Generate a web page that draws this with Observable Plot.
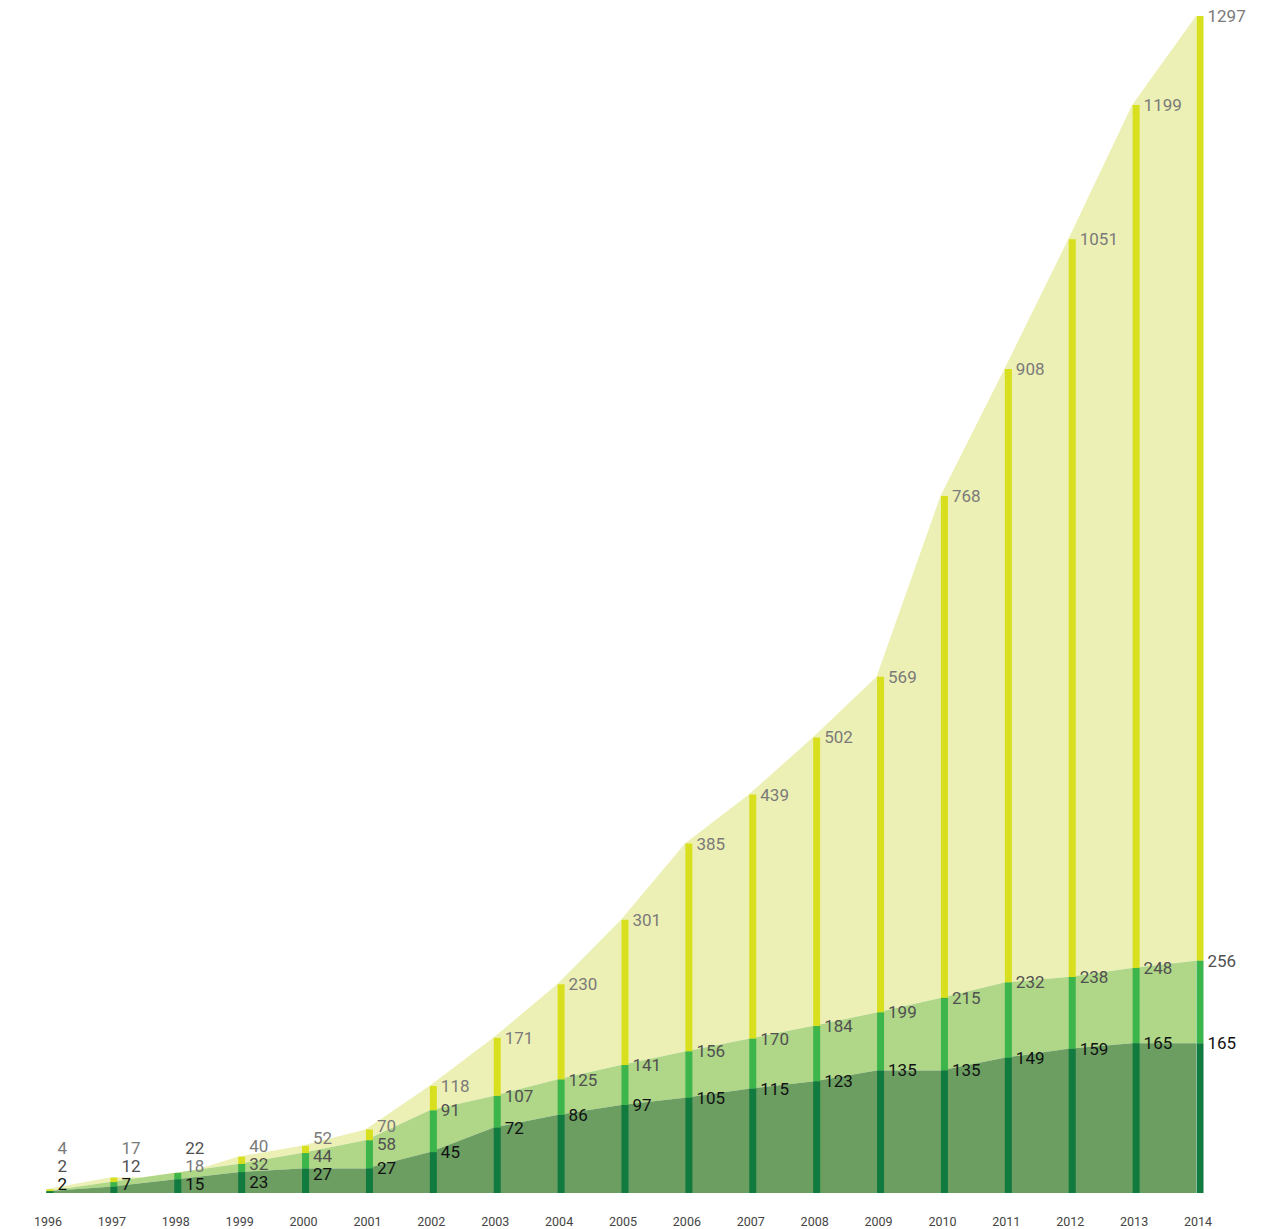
<!DOCTYPE html>
<html>
<head>
<meta charset="utf-8">
<script src="https://cdn.jsdelivr.net/npm/d3@7"></script>
<script src="https://cdn.jsdelivr.net/npm/@observablehq/plot@0.6"></script>
<style>
  html, body { margin: 0; padding: 0; background: #fff; }
  svg { display: block; }
</style>
</head>
<body>
<div id="chart"></div>
<script>
const years  = [1996,1997,1998,1999,2000,2001,2002,2003,2004,2005,2006,2007,2008,2009,2010,2011,2012,2013,2014];
const bottom = [2,7,15,23,27,27,45,72,86,97,105,115,123,135,135,149,159,165,165];
const middle = [2,12,22,32,44,58,91,107,125,141,156,170,184,199,215,232,238,248,256];
const top_   = [4,17,18,40,52,70,118,171,230,301,385,439,502,569,768,908,1051,1199,1297];

const W = 1273, H = 1229;
const M = {top: 16, right: 77, bottom: 36, left: 46};
const yDomain = [0, 1297];

const rows = years.map((year, i) => ({year, b: bottom[i], m: middle[i], t: top_[i]}));

// label de-overlap using the library's own y scale
const yScale = Plot.scale({y: {domain: yDomain, range: [H - M.bottom, M.top]}});
const labels = [];
const GAP = 18, MAXY = (H - M.bottom) - 9;
rows.forEach(r => {
  const items = [
    {year: r.year, v: r.b, cls: "b"},
    {year: r.year, v: r.m, cls: "m"},
    {year: r.year, v: r.t, cls: "t"}
  ].map(d => ({...d, p: yScale.apply(d.v)}));
  items.sort((a, b) => b.p - a.p); // bottom-most first
  for (let it = 0; it < 200; it++) {
    for (let k = 0; k < items.length - 1; k++) {
      const lo = items[k], hi = items[k + 1];
      const gap = lo.p - hi.p;
      if (gap < GAP) {
        const d = (GAP - gap) / 2;
        lo.p += d; hi.p -= d;
      }
    }
    items.forEach(d => { if (d.p > MAXY) d.p = MAXY; });
  }
  items.forEach(d => labels.push({...d, ly: yScale.invert(d.p)}));
});

const labelColor = {b: "#111111", m: "#505050", t: "#7a7a7a"};

const chart = Plot.plot({
  width: W, height: H,
  marginTop: M.top, marginRight: M.right, marginBottom: M.bottom, marginLeft: M.left,
  x: {domain: [1996, 2014], axis: null},
  y: {domain: yDomain, axis: null},
  style: {fontFamily: "Roboto, 'Liberation Sans', sans-serif", background: "#fff"},
  marks: [
    Plot.areaY(rows, {x: "year", y1: "m", y2: "t", fill: "#edf0b4"}),
    Plot.areaY(rows, {x: "year", y1: "b", y2: "m", fill: "#b0d688"}),
    Plot.areaY(rows, {x: "year", y1: 0, y2: "b", fill: "#6b9e60"}),
    Plot.ruleX(rows, {x: "year", y1: "m", y2: "t", stroke: "#d8df1e", strokeWidth: 7, dx: 3.5}),
    Plot.ruleX(rows, {x: "year", y1: "b", y2: "m", stroke: "#3cb54b", strokeWidth: 7, dx: 3.5}),
    Plot.ruleX(rows, {x: "year", y1: 0, y2: "b", stroke: "#117a3f", strokeWidth: 7, dx: 3.5}),
    Plot.text(labels, {
      x: "year", y: "ly", text: d => String(d.v),
      fill: d => labelColor[d.cls], textAnchor: "start", dx: 11,
      fontSize: 17, lineAnchor: "middle"
    }),
    Plot.text(rows, {
      x: "year", y: 0, text: d => String(d.year), dy: 28, dx: 1.5,
      fill: "#444", fontSize: 12.5, textAnchor: "middle"
    })
  ]
});
document.getElementById("chart").appendChild(chart);
</script>
</body>
</html>
